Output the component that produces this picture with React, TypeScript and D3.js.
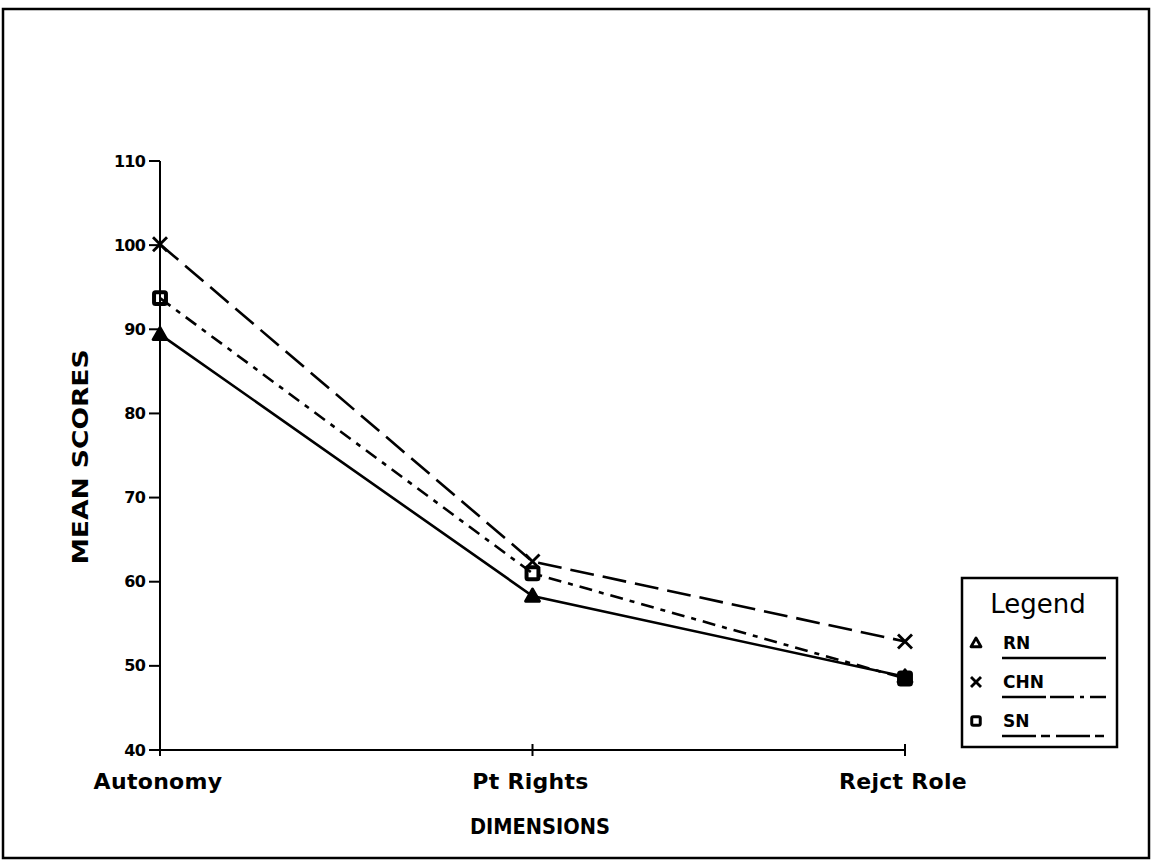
import * as d3 from "d3";

const dimensions = ["Autonomy", "Pt Rights", "Rejct Role"];
const yTicks = [40, 50, 60, 70, 80, 90, 100, 110];

const rnScores = [89.4, 58.3, 48.7];
const chnScores = [100.1, 62.4, 52.9];
const snScores = [93.7, 61.0, 48.5];

const series = [
  { name: "RN", values: rnScores, marker: "triangle", dash: "none", legendDash: "none" },
  { name: "CHN", values: chnScores, marker: "cross", dash: "24,9", legendDash: "44,4,24,6,4,6" },
  { name: "SN", values: snScores, marker: "square", dash: "13,7,5,7", legendDash: "34,5,9,6" },
];

const W = 1152;
const H = 863;
const FONT = "'DejaVu Sans', sans-serif";

function Marker({ type, x, y, s = 7, fill = false }: { type: string; x: number; y: number; s?: number; fill?: boolean }) {
  if (type === "triangle") {
    const p = d3.path();
    p.moveTo(x, y - s);
    p.lineTo(x + s, y + s * 0.75);
    p.lineTo(x - s, y + s * 0.75);
    p.closePath();
    return <path d={p.toString()} fill={fill ? "#000" : "none"} stroke="#000" strokeWidth={2.8} strokeLinejoin="round" />;
  }
  if (type === "cross") {
    return (
      <g stroke="#000" strokeWidth={2.8}>
        <line x1={x - s} y1={y - s} x2={x + s} y2={y + s} />
        <line x1={x - s} y1={y + s} x2={x + s} y2={y - s} />
      </g>
    );
  }
  return (
    <rect x={x - s * 0.85} y={y - s * 0.85} width={s * 1.7} height={s * 1.7} rx={1.5}
      fill="none" stroke="#000" strokeWidth={fill ? 4 : 3} />
  );
}

export default function App() {
  const x = d3.scalePoint<string>().domain(dimensions).range([160, 905]);
  const y = d3.scaleLinear().domain([40, 110]).range([750, 161]);

  const line = d3
    .line<number>()
    .x((_, i) => x(dimensions[i]) as number)
    .y((d) => y(d));

  const legendX = 962;
  const legendY = 578;

  return (
    <svg width={W} height={H} style={{ position: "absolute", left: 0, top: 0, background: "#fff" }}>
      {/* outer frame */}
      <rect x={3} y={9} width={1146} height={849} fill="none" stroke="#000" strokeWidth={2.5} />

      {/* y axis */}
      <line x1={160} x2={160} y1={y(110)} y2={y(40)} stroke="#000" strokeWidth={2} />
      {yTicks.map((t) => (
        <g key={t}>
          <line x1={149} x2={160} y1={y(t)} y2={y(t)} stroke="#000" strokeWidth={2} />
          <text x={145} y={y(t)} dy="0.35em" textAnchor="end" fontFamily={FONT}
            fontWeight="bold" fontSize={16} letterSpacing={-0.8}>
            {t}
          </text>
        </g>
      ))}

      {/* x axis */}
      <line x1={160} x2={905} y1={y(40)} y2={y(40)} stroke="#000" strokeWidth={2} />
      {dimensions.map((d) => (
        <g key={d}>
          <line x1={x(d)} x2={x(d)} y1={y(40) - 6} y2={y(40) + 6} stroke="#000" strokeWidth={2} />
          <text x={(x(d) as number) - 2} y={y(40) + 39} textAnchor="middle" fontFamily={FONT}
            fontWeight="bold" fontSize={22} letterSpacing={0.3}>
            {d}
          </text>
        </g>
      ))}

      <text x={540} y={834} textAnchor="middle" fontFamily={FONT} fontWeight="bold"
        fontSize={21} textLength={140} lengthAdjust="spacingAndGlyphs">
        DIMENSIONS
      </text>
      <text transform="translate(88,457) rotate(-90)" textAnchor="middle" fontFamily={FONT}
        fontWeight="bold" fontSize={21} textLength={215} lengthAdjust="spacingAndGlyphs">
        MEAN SCORES
      </text>

      {/* series */}
      {series.map((s) => (
        <g key={s.name}>
          <path d={line(s.values) ?? ""} fill="none" stroke="#000" strokeWidth={2.6}
            strokeDasharray={s.dash === "none" ? undefined : s.dash} />
          {s.values.map((v, i) => (
            <Marker key={i} type={s.marker} x={x(dimensions[i]) as number} y={y(v)} fill />
          ))}
        </g>
      ))}

      {/* legend */}
      <rect x={legendX} y={legendY} width={155} height={169} fill="#fff" stroke="#000" strokeWidth={2.5} />
      <text x={legendX + 76} y={legendY + 35} textAnchor="middle" fontFamily={FONT}
        fontSize={26}>
        Legend
      </text>
      {series.map((s, i) => {
        const ry = legendY + 65 + i * 39;
        return (
          <g key={s.name}>
            <Marker type={s.marker} x={legendX + 14} y={ry} s={5} />
            <text x={legendX + 41} y={ry} dy="0.36em" fontFamily={FONT} fontWeight="bold" fontSize={17}>
              {s.name}
            </text>
            <line x1={legendX + 40} x2={legendX + 144} y1={ry + 15} y2={ry + 15} stroke="#000"
              strokeWidth={2.6} strokeDasharray={s.legendDash === "none" ? undefined : s.legendDash} />
          </g>
        );
      })}
    </svg>
  );
}
